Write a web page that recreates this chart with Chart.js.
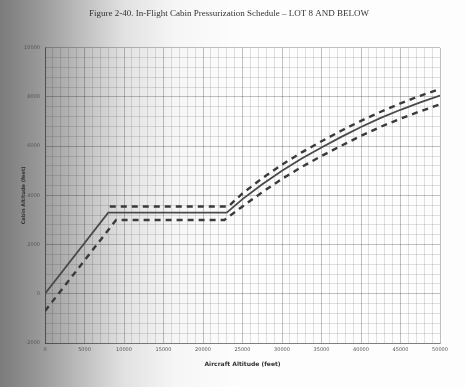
<!DOCTYPE html>
<html>
<head>
<meta charset="utf-8">
<script src="https://cdn.jsdelivr.net/npm/chart.js@4"></script>
<style>
  html, body { margin: 0; padding: 0; }
  body {
    width: 466px; height: 387px; overflow: hidden;
    background: linear-gradient(to right, #7b7b7b 0px, #959595 35px, #bdbdbd 80px, #e2e2e2 125px, #f6f6f6 175px, #fdfdfd 240px);
  }
  .wrap { position: relative; width: 466px; height: 387px; }
</style>
</head>
<body>
<div class="wrap"><canvas id="cabinChart"></canvas></div>
<script>
  // aircraft altitude (feet) / cabin altitude (feet) for each line
  const solidAlt   = [0, 8000, 23000, 25000, 27500, 30000, 32500, 35000, 37500, 40000, 42500, 45000, 47500, 50000];
  const solidCabin = [0, 3300, 3300, 3850, 4450, 5000, 5500, 5950, 6380, 6780, 7150, 7480, 7780, 8060];

  const upperAlt   = [8200, 23200, 25000, 27500, 30000, 32500, 35000, 37500, 40000, 42500, 45000, 47500, 50000];
  const upperCabin = [3550, 3550, 4080, 4700, 5250, 5750, 6200, 6630, 7030, 7400, 7740, 8050, 8330];

  const lowerAlt   = [0, 9000, 22700, 25000, 27500, 30000, 32500, 35000, 37500, 40000, 42500, 45000, 47500, 50000];
  const lowerCabin = [-700, 3000, 3000, 3550, 4130, 4670, 5160, 5600, 6020, 6420, 6790, 7120, 7420, 7700];

  const xLabels = [0, 5000, 10000, 15000, 20000, 25000, 30000, 35000, 40000, 45000, 50000];
  const yLabels = [-2000, 0, 2000, 4000, 6000, 8000, 10000];

  const toPoints = (xs, ys) => xs.map((x, i) => ({ x: x, y: ys[i] }));

  const lineStyle = {
    showLine: true,
    pointRadius: 0,
    tension: 0,
    fill: false
  };

  new Chart("cabinChart", {
    type: "scatter",
    data: {
      datasets: [
        Object.assign({ data: toPoints(upperAlt, upperCabin), borderColor: "#3a3a3a", borderWidth: 2.4, borderDash: [6, 5] }, lineStyle),
        Object.assign({ data: toPoints(solidAlt, solidCabin), borderColor: "#4a4a4a", borderWidth: 1.8 }, lineStyle),
        Object.assign({ data: toPoints(lowerAlt, lowerCabin), borderColor: "#3a3a3a", borderWidth: 2.4, borderDash: [6, 5] }, lineStyle)
      ]
    },
    options: {
      responsive: true,
      maintainAspectRatio: false,
      animation: false,
      layout: { padding: { left: 18, right: 26, top: 0, bottom: 19 } },
      plugins: {
        legend: { display: false },
        tooltip: { enabled: false },
        title: {
          display: true,
          text: "Figure 2-40. In-Flight Cabin Pressurization Schedule \u2013 LOT 8 AND BELOW",
          font: { family: "Liberation Serif", size: 9, weight: "normal" },
          color: "#333",
          padding: { top: 8, bottom: 29 }
        }
      },
      scales: {
        x: {
          type: "linear",
          min: 0,
          max: 50000,
          afterFit: (s) => { s.height = 25; },
          ticks: {
            stepSize: 1000,
            autoSkip: false,
            maxRotation: 0,
            padding: 4,
            color: "#555",
            font: { family: "DejaVu Sans", size: 5 },
            callback: (v) => xLabels.includes(v) ? String(v) : ""
          },
          grid: {
            drawTicks: false,
            color: (c) => (c.tick && c.tick.value % 5000 === 0) ? "rgba(0,0,0,0.3)" : "rgba(0,0,0,0.15)",
            lineWidth: 0.8
          },
          border: { color: "rgba(0,0,0,0.35)" },
          title: {
            display: true,
            text: "Aircraft Altitude (feet)",
            color: "#333",
            font: { family: "DejaVu Sans", size: 6, weight: "bold" },
            padding: { top: 5, bottom: 0 }
          }
        },
        y: {
          type: "linear",
          min: -2000,
          max: 10000,
          afterFit: (s) => { s.width = 27; },
          ticks: {
            stepSize: 400,
            autoSkip: false,
            padding: 5,
            color: "#555",
            font: { family: "DejaVu Sans", size: 5 },
            callback: (v) => yLabels.includes(v) ? String(v) : ""
          },
          grid: {
            drawTicks: false,
            color: (c) => (c.tick && c.tick.value % 2000 === 0) ? "rgba(0,0,0,0.3)" : "rgba(0,0,0,0.15)",
            lineWidth: 0.8
          },
          border: { color: "rgba(0,0,0,0.35)" },
          title: {
            display: true,
            text: "Cabin Altitude (feet)",
            color: "#333",
            font: { family: "DejaVu Sans", size: 5, weight: "bold" },
            padding: { top: 3, bottom: 0 }
          }
        }
      }
    }
  });
</script>
</body>
</html>
